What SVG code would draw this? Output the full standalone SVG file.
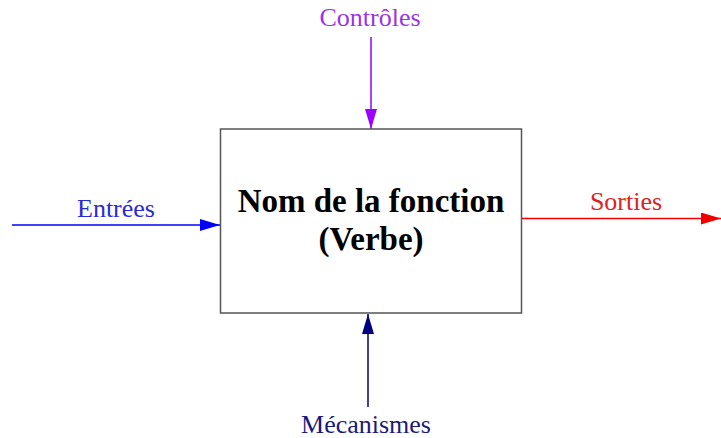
<svg xmlns="http://www.w3.org/2000/svg" width="721" height="438" viewBox="0 0 721 438">
<style>
.lbl{font-family:"Liberation Serif",serif;font-size:26px;text-anchor:middle}
.title{font-family:"Liberation Serif",serif;font-size:33px;font-weight:bold;text-anchor:middle;fill:#000}
.ln{stroke-width:1.5;fill:none}
</style>
<defs>
<marker id="ap" markerWidth="20" markerHeight="12" refX="20" refY="6" viewBox="0 0 20 12" orient="auto" markerUnits="userSpaceOnUse"><path d="M0,0 L20,6 L0,12 Z" fill="#9900ff"/></marker>
<marker id="ab" markerWidth="20" markerHeight="12" refX="20" refY="6" viewBox="0 0 20 12" orient="auto" markerUnits="userSpaceOnUse"><path d="M0,0 L20,6 L0,12 Z" fill="#0000ff"/></marker>
<marker id="ar" markerWidth="20" markerHeight="12" refX="20" refY="6" viewBox="0 0 20 12" orient="auto" markerUnits="userSpaceOnUse"><path d="M0,0 L20,6 L0,12 Z" fill="#ee0000"/></marker>
<marker id="an" markerWidth="20" markerHeight="12" refX="20" refY="6" viewBox="0 0 20 12" orient="auto" markerUnits="userSpaceOnUse"><path d="M0,0 L20,6 L0,12 Z" fill="#000080"/></marker>
</defs>
<rect width="721" height="438" fill="#fff"/>
<g id="connectors">
<line class="ln" x1="371" y1="37" x2="371" y2="129" stroke="#9900ff" marker-end="url(#ap)"/>
<line class="ln" x1="12" y1="225" x2="220" y2="225" stroke="#0000ff" marker-end="url(#ab)"/>
<line class="ln" x1="522" y1="218.5" x2="721" y2="218.5" stroke="#ee0000" marker-end="url(#ar)"/>
<line class="ln" x1="368" y1="407" x2="368" y2="314" stroke="#000080" marker-end="url(#an)"/>
</g>
<g id="fonction">
<rect x="220.5" y="129" width="301" height="184" fill="#fff" stroke="#555" stroke-width="1.5"/>
<text class="title" x="371" y="212">Nom de la fonction</text>
<text class="title" x="371" y="250">(Verbe)</text>
</g>
<g id="controles"><text class="lbl" x="370" y="26" fill="#9933ee">Contrôles</text></g>
<g id="entrees"><text class="lbl" x="116" y="217" fill="#2a2ad8">Entrées</text></g>
<g id="sorties"><text class="lbl" x="626" y="210" fill="#dd2222">Sorties</text></g>
<g id="mecanismes"><text class="lbl" x="366" y="433" fill="#1a1a7a">Mécanismes</text></g>
</svg>
